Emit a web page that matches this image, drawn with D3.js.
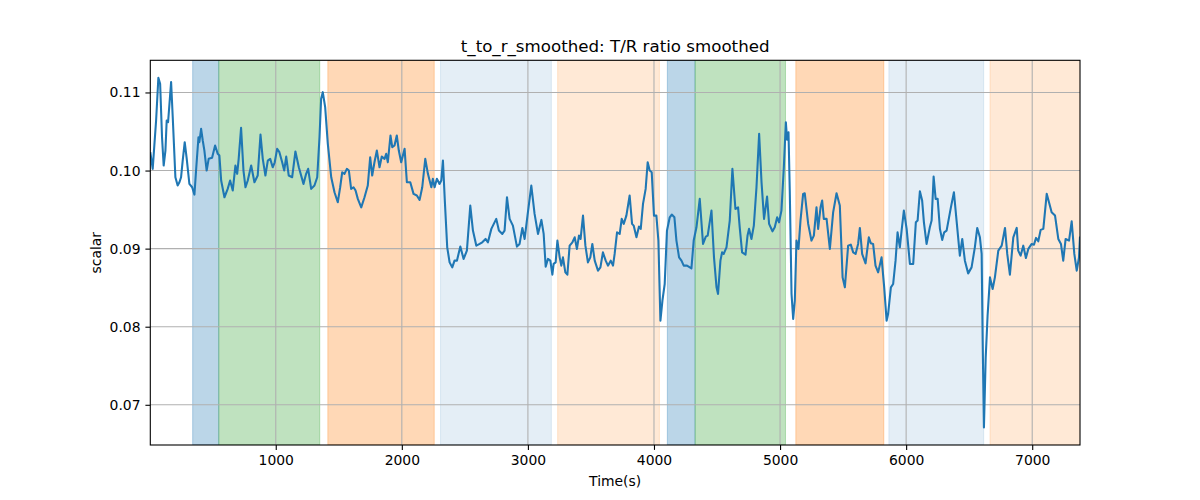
<!DOCTYPE html>
<html><head><meta charset="utf-8">
<script src="https://cdn.jsdelivr.net/npm/d3@7"></script>
<style>
body{margin:0;background:#fff;}
svg text{font-family:"DejaVu Sans",sans-serif;fill:#000;}
</style></head>
<body><svg id="c" width="1200" height="500"></svg>
<script>
const times = [5,24,37,51,69,83,98,111,125,135,146,170,183,204,222,236,249,262,278,294,315,337,355,368,387,394,408,421,434,452,468,495,519,540,553,567,593,619,638,659,680,694,706,725,744,760,778,805,831,857,879,897,918,937,956,976,992,1011,1029,1051,1067,1083,1103,1130,1156,1183,1220,1241,1257,1281,1307,1329,1347,1360,1373,1392,1413,1440,1466,1492,1511,1527,1545,1564,1580,1598,1617,1633,1651,1678,1704,1730,1749,1765,1783,1802,1823,1841,1863,1876,1889,1910,1924,1942,1960,1976,1995,2022,2040,2067,2093,2119,2141,2162,2186,2207,2234,2246,2260,2278,2299,2313,2326,2341,2360,2379,2400,2418,2437,2464,2490,2516,2543,2564,2591,2617,2638,2664,2683,2710,2749,2770,2797,2815,2834,2855,2881,2913,2934,2956,2974,3000,3027,3053,3080,3107,3125,3141,3159,3178,3194,3204,3220,3234,3252,3265,3278,3297,3313,3331,3353,3371,3389,3405,3418,3437,3456,3476,3495,3511,3530,3556,3575,3595,3617,3635,3657,3675,3688,3707,3728,3744,3760,3781,3807,3826,3839,3861,3881,3895,3913,3934,3950,3966,3982,4000,4019,4035,4051,4067,4085,4103,4125,4141,4162,4178,4199,4218,4236,4262,4297,4315,4337,4363,4389,4411,4426,4456,4476,4496,4508,4527,4540,4553,4575,4601,4622,4646,4667,4680,4699,4726,4742,4754,4773,4792,4813,4834,4853,4873,4897,4913,4940,4958,4977,4992,5011,5030,5046,5056,5067,5077,5091,5104,5117,5130,5146,5162,5183,5196,5223,5249,5268,5289,5302,5321,5334,5347,5369,5395,5421,5448,5474,5496,5514,5540,5561,5580,5599,5619,5633,5651,5678,5704,5720,5738,5757,5778,5805,5826,5845,5857,5879,5897,5916,5932,5950,5964,5982,6004,6030,6056,6077,6091,6109,6127,6141,6162,6188,6202,6218,6234,6250,6268,6286,6302,6321,6355,6379,6400,6426,6445,6466,6492,6519,6545,6564,6585,6599,6607,6617,6631,6646,6665,6686,6704,6731,6758,6784,6802,6823,6850,6877,6889,6908,6929,6950,6969,6996,7014,7030,7048,7067,7088,7115,7133,7154,7181,7207,7228,7246,7265,7292,7313,7334,7353,7371,7379];

const values = [0.10235,0.10022,0.10321,0.10641,0.11188,0.11112,0.10427,0.10064,0.10256,0.10641,0.10619,0.11132,0.10683,0.09914,0.09808,0.0985,0.09914,0.10128,0.10363,0.1015,0.09829,0.09786,0.09692,0.1,0.10427,0.10363,0.10535,0.10385,0.10256,0.1,0.1015,0.10163,0.10321,0.10214,0.10192,0.09872,0.09658,0.09765,0.09872,0.09744,0.10064,0.09958,0.1015,0.10547,0.1,0.09786,0.09872,0.10064,0.0985,0.09936,0.10462,0.1015,0.09936,0.10128,0.1015,0.10042,0.10106,0.10278,0.10235,0.10106,0.1,0.10179,0.09936,0.09914,0.10244,0.10042,0.09829,0.09958,0.10022,0.09765,0.09808,0.09914,0.10427,0.10919,0.11004,0.10812,0.10342,0.09914,0.09722,0.09594,0.09786,0.09978,0.09958,0.10022,0.1,0.09765,0.09786,0.09744,0.09637,0.09529,0.09658,0.09808,0.1017,0.09936,0.10106,0.10256,0.10042,0.10179,0.1015,0.10214,0.10106,0.10449,0.10299,0.10321,0.10449,0.10256,0.10106,0.10278,0.0985,0.0985,0.09701,0.0968,0.09624,0.09786,0.1015,0.09958,0.09786,0.09894,0.09786,0.09894,0.09829,0.09872,0.10128,0.09615,0.09017,0.08824,0.0876,0.08846,0.08846,0.09026,0.08868,0.08974,0.09551,0.09231,0.09038,0.0906,0.09081,0.09124,0.09081,0.09253,0.09381,0.09231,0.09188,0.09231,0.09658,0.09381,0.09295,0.09026,0.0906,0.09265,0.09124,0.09465,0.09808,0.09445,0.09188,0.09368,0.09188,0.08769,0.08868,0.08846,0.08667,0.08804,0.08824,0.09103,0.08888,0.08782,0.08888,0.08696,0.08667,0.09038,0.09081,0.09145,0.08996,0.09167,0.09124,0.09423,0.09038,0.08824,0.08888,0.0906,0.08846,0.08718,0.0876,0.08952,0.08846,0.08782,0.08846,0.08782,0.08932,0.09209,0.09188,0.09381,0.09317,0.09423,0.0968,0.09317,0.09295,0.09145,0.09282,0.09253,0.09573,0.09765,0.10106,0.1,0.09978,0.09423,0.09423,0.09103,0.08077,0.08333,0.08547,0.09231,0.09401,0.09436,0.09401,0.09103,0.08888,0.08846,0.08782,0.08782,0.08747,0.09103,0.09273,0.09637,0.0906,0.09154,0.09167,0.09487,0.08888,0.08504,0.08419,0.08846,0.08952,0.08932,0.09017,0.09359,0.10022,0.09509,0.09529,0.09273,0.08952,0.08923,0.09167,0.09253,0.09124,0.09295,0.09786,0.1047,0.0985,0.09381,0.09667,0.09317,0.09222,0.09273,0.09401,0.09337,0.09487,0.10042,0.10619,0.10394,0.10491,0.09744,0.08419,0.08099,0.08333,0.09103,0.08996,0.09359,0.09701,0.09709,0.09317,0.09103,0.09167,0.09529,0.09253,0.09529,0.09615,0.09381,0.09381,0.08996,0.09465,0.09709,0.09551,0.08632,0.08504,0.09038,0.09051,0.08952,0.08932,0.0906,0.09265,0.08932,0.08812,0.09145,0.09068,0.0906,0.08782,0.08696,0.08888,0.08504,0.08077,0.08163,0.08504,0.08547,0.08846,0.09209,0.09017,0.09231,0.09487,0.09253,0.08804,0.08804,0.09337,0.09359,0.09735,0.09615,0.09337,0.0906,0.09273,0.09359,0.09923,0.09637,0.09637,0.09253,0.09112,0.09209,0.09231,0.09529,0.09722,0.09359,0.0891,0.09124,0.08846,0.08683,0.0876,0.09017,0.09265,0.09145,0.08932,0.0782,0.06709,0.07606,0.08141,0.08632,0.08483,0.08632,0.08974,0.09038,0.09265,0.08932,0.08667,0.09145,0.09265,0.08974,0.0891,0.09038,0.08881,0.08996,0.0906,0.09051,0.09137,0.09094,0.0924,0.09253,0.09701,0.09594,0.09465,0.09423,0.09124,0.0906,0.08846,0.09124,0.09103,0.0935,0.08932,0.08718,0.08888,0.09154];

// Shaded phases
const bandStarts = [341, 548, 1413, 2307, 3236, 4106, 4326, 5125, 5863, 6665];
const bandEnds   = [548, 1349, 2257, 3186, 4043, 4326, 5043, 5823, 6615, 7400];
const bandKinds  = ["blue", "green", "orange", "lightblue", "lightorange", "blue", "green", "orange", "lightblue", "lightorange"];

const xTicks = [1000, 2000, 3000, 4000, 5000, 6000, 7000];
const yTicks = [0.07, 0.08, 0.09, 0.10, 0.11];
const titleText = "t_to_r_smoothed: T/R ratio smoothed";
const xLabel = "Time(s)";
const yLabel = "scalar";

const bandStyle = {
  blue: {color: "#1f77b4", op: 0.3},
  green: {color: "#2ca02c", op: 0.3},
  orange: {color: "#ff7f0e", op: 0.3},
  lightblue: {color: "#1f77b4", op: 0.12},
  lightorange: {color: "#ff7f0e", op: 0.17}
};

const L = 150.3, R = 1080, T = 60.3, B = 445;
const svg = d3.select("#c");
const n = Math.min(times.length, values.length);
const data = d3.range(n).map(i => ({t: times[i], v: values[i]}));

const [vmin, vmax] = d3.extent(data, d => d.v);
const pad = (vmax - vmin) * 0.05;
const x = d3.scaleLinear().domain(d3.extent(data, d => d.t)).range([L, R]);
const y = d3.scaleLinear().domain([vmin - pad, vmax + pad]).range([B, T]);

const clip = svg.append("clipPath").attr("id", "clip").append("rect")
  .attr("x", L).attr("y", T).attr("width", R - L).attr("height", B - T);

const gBands = svg.append("g").attr("clip-path", "url(#clip)");
bandStarts.forEach((s, i) => {
  const st = bandStyle[bandKinds[i]];
  gBands.append("rect")
    .attr("x", x(s)).attr("y", T)
    .attr("width", x(bandEnds[i]) - x(s)).attr("height", B - T)
    .attr("fill", st.color).attr("fill-opacity", st.op)
    .attr("stroke", st.color).attr("stroke-opacity", st.op).attr("stroke-width", 1);
});

// grid
const gGrid = svg.append("g");
xTicks.forEach(t => {
  gGrid.append("line").attr("x1", x(t)).attr("x2", x(t)).attr("y1", T).attr("y2", B)
    .attr("stroke", "#b0b0b0").attr("stroke-width", 1.1);
});
yTicks.forEach(t => {
  gGrid.append("line").attr("x1", L).attr("x2", R).attr("y1", y(t)).attr("y2", y(t))
    .attr("stroke", "#b0b0b0").attr("stroke-width", 1.1);
});

// line
svg.append("path").datum(data).attr("clip-path", "url(#clip)")
  .attr("fill", "none").attr("stroke", "#1f77b4").attr("stroke-width", 2.08)
  .attr("stroke-linejoin", "round").attr("stroke-linecap", "butt")
  .attr("d", d3.line().x(d => x(d.t)).y(d => y(d.v)));

// axes
const xAxis = d3.axisBottom(x).tickValues(xTicks).tickFormat(d3.format("d")).tickSize(4.9).tickPadding(4.9);
const yAxis = d3.axisLeft(y).tickValues(yTicks).tickFormat(d3.format(".2f")).tickSize(4.9).tickPadding(4.9);
const gx = svg.append("g").attr("transform", `translate(0,${B})`).call(xAxis);
const gy = svg.append("g").attr("transform", `translate(${L},0)`).call(yAxis);
[gx, gy].forEach(g => {
  g.select(".domain").remove();
  g.selectAll(".tick line").attr("stroke", "#000").attr("stroke-width", 1.1);
  g.selectAll(".tick text").attr("font-size", "13.9px").attr("font-family", "DejaVu Sans").attr("fill", "#000");
});

// spines
svg.append("rect").attr("x", L).attr("y", T).attr("width", R - L).attr("height", B - T)
  .attr("fill", "none").attr("stroke", "#000").attr("stroke-width", 1.1);

// labels
svg.append("text").attr("x", (L + R) / 2).attr("y", 52).attr("text-anchor", "middle")
  .attr("font-size", "16.67px").text(titleText);
svg.append("text").attr("x", (L + R) / 2).attr("y", 486).attr("text-anchor", "middle")
  .attr("font-size", "13.9px").text(xLabel);
svg.append("text").attr("transform", `translate(101,${(T + B) / 2}) rotate(-90)`).attr("text-anchor", "middle")
  .attr("font-size", "13.9px").text(yLabel);
</script></body></html>
